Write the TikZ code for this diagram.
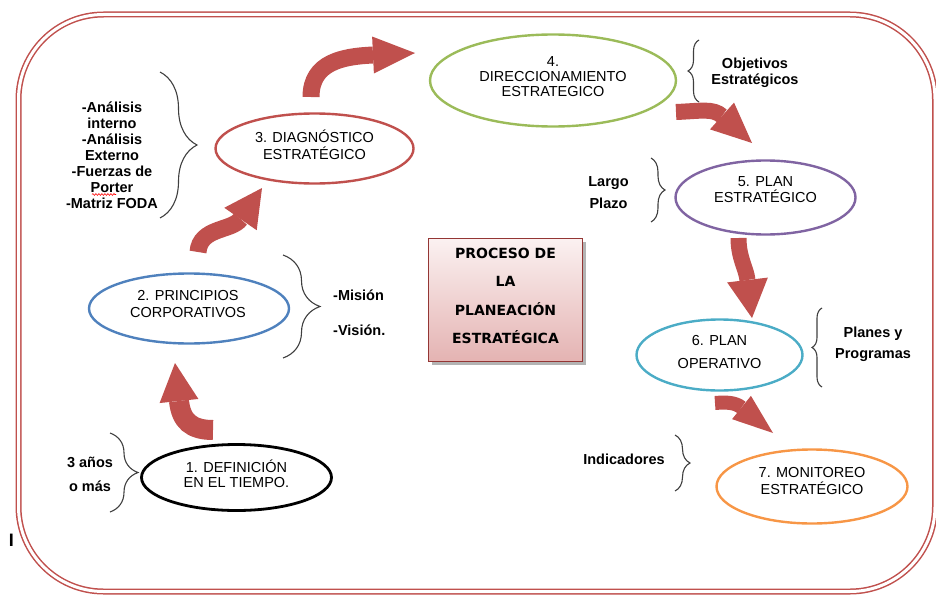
\documentclass[tikz,border=0pt]{standalone}
\usepackage{fontspec}
\setmainfont{Liberation Sans}
\newfontfamily\cajafont{DejaVu Sans}
\usetikzlibrary{shapes.geometric,calc,decorations.pathreplacing,decorations.pathmorphing,shadows}

\definecolor{rojo}{HTML}{C0504D}
\definecolor{azul}{HTML}{4F81BD}
\definecolor{verde}{HTML}{9BBB59}
\definecolor{morado}{HTML}{8064A2}
\definecolor{turquesa}{HTML}{4BACC6}
\definecolor{naranja}{HTML}{F79646}
\definecolor{bordecaja}{HTML}{943634}
\definecolor{rosa}{HTML}{E4B3B2}
\definecolor{rosaclaro}{HTML}{FBF1F1}
\definecolor{llavegris}{HTML}{3F3F3F}

\begin{document}
\begin{tikzpicture}[x=1pt,y=1pt,
  elipse/.style={ellipse, draw=#1, line width=2.4pt, inner sep=0pt},
  texto/.style={font=\fontsize{14.5}{#1}\selectfont, align=center, inner sep=0pt},
  etiqueta/.style={font=\fontsize{14.5}{#1}\selectfont\bfseries, align=center, inner sep=0pt},
  llave/.style={decorate, decoration={brace, amplitude=#1}, draw=llavegris, line width=1.1pt},
  cuerpo/.style={draw=rojo, line width=#1},
  caja/.style={rectangle, draw=bordecaja, line width=1.4pt, top color=rosaclaro, bottom color=rosa,
    drop shadow={shadow xshift=3.5pt, shadow yshift=-3.5pt, fill=black!50, opacity=0.6}},
]
\useasboundingbox (0,0) rectangle (936,-594);

% double-lined rounded frame
\draw[draw=rojo, line width=1.5pt, double=white, double distance=3pt, rounded corners=85pt]
  (18.5,-14.5) rectangle (935,-591.5);

% stray cursor mark
\node[font=\fontsize{18}{20}\selectfont\bfseries, inner sep=0pt] (marca) at (11.5,-540) {I};

% process stages
\node[elipse=black, line width=2.8pt, minimum width=190pt, minimum height=66pt] (e1) at (236.5,-477.5) {};
\node[elipse=azul, minimum width=200pt, minimum height=70pt] (e2) at (189,-308.5) {};
\node[elipse=rojo, minimum width=198pt, minimum height=70pt] (e3) at (314.5,-148.5) {};
\node[elipse=verde, minimum width=246pt, minimum height=92pt] (e4) at (553,-80.5) {};
\node[elipse=morado, minimum width=180pt, minimum height=74pt] (e5) at (765.5,-197.5) {};
\node[elipse=turquesa, minimum width=166pt, minimum height=71pt] (e6) at (719.5,-355) {};
\node[elipse=naranja, minimum width=191pt, minimum height=74pt] (e7) at (812,-486.5) {};

\node[texto=15] (t1) at (236.5,-474) {1. DEFINICIÓN\\EN EL TIEMPO.};
\node[texto=17] (t2) at (188,-304.5) {2. PRINCIPIOS\\CORPORATIVOS};
\node[texto=17] (t3) at (314.5,-144.5) {3. DIAGNÓSTICO\\ESTRATÉGICO};
\node[texto=14.7] (t4) at (553,-76.5) {4.\\DIRECCIONAMIENTO\\ESTRATEGICO};
\node[texto=16] (t5) at (765.5,-190) {5. PLAN\\ESTRATÉGICO};
\node[texto=22.5] (t6) at (719.5,-352) {6. PLAN\\OPERATIVO};
\node[texto=16.7] (t7) at (812,-481) {7. MONITOREO\\ESTRATÉGICO};

% central title box
\node[caja, minimum width=154.5pt, minimum height=123.5pt] (caja) at (505.5,-300) {};
\node[font=\cajafont\bfseries\fontsize{14}{28.3}\selectfont, align=center, inner sep=0pt] (titulo)
  at (505.5,-295.8) {PROCESO DE\\LA\\PLANEACIÓN\\ESTRATÉGICA};

% braces
\draw[llave=37pt] (160,-72) -- (160,-218);
\draw[llave=37pt] (283,-255) -- (283,-358);
\draw[llave=28pt] (110,-433) -- (110,-512);
\draw[llave=11pt] (699,-102) -- (699,-40);
\draw[llave=14pt] (651,-158) -- (651,-222);
\draw[llave=10pt] (822,-387) -- (822,-308);
\draw[llave=15pt] (675,-435) -- (675,-491);

% brace labels
\node[etiqueta=16] (lizq) at (112,-155) {-Análisis\\interno\\-Análisis\\Externo\\-Fuerzas de\\Porter\\-Matriz FODA};
\draw[red, line width=0.6pt, decorate, decoration={snake, amplitude=0.9pt, segment length=3pt}]
  (92,-194.5) -- (116,-194.5);
\node[etiqueta=35, align=left, anchor=west] (lmision) at (333,-312.5) {-Misión\\-Visión.};
\node[etiqueta=24] (lanios) at (90,-474) {3 años\\o más};
\node[etiqueta=16] (lobj) at (755,-73) {Objetivos\\Estratégicos};
\node[etiqueta=22] (llargo) at (608.5,-193) {Largo\\Plazo};
\node[etiqueta=21] (lplanes) at (873,-344) {Planes y\\Programas};
\node[etiqueta=16] (lind) at (624,-459) {Indicadores};

% curved block arrows: tail, head base, head apex
\coordinate (f1t) at ($(e1)+(-23.5,47.5)$);
\coordinate (f1b) at ($(e2)+(-10,-92.5)$);
\coordinate (f1a) at ($(e2)+(-14,-54.5)$);
\coordinate (f2t) at ($(e2)+(9,56.5)$);
\coordinate (f2b) at ($(e3)+(-74,-70.5)$);
\coordinate (f2a) at ($(e3)+(-52.5,-39.5)$);
\coordinate (f3t) at ($(e3)+(-3.5,51.5)$);
\coordinate (f3b) at ($(e4)+(-180,25.5)$);
\coordinate (f3a) at ($(e4)+(-138,27.5)$);
\coordinate (f4t) at ($(e4)+(123,-31.5)$);
\coordinate (f4b) at ($(e5)+(-43.5,81.5)$);
\coordinate (f4a) at ($(e5)+(-13.5,54.5)$);
\coordinate (f5t) at ($(e5)+(-27,-40.5)$);
\coordinate (f5b) at ($(e6)+(28,75)$);
\coordinate (f5a) at ($(e6)+(32.5,37)$);
\coordinate (f6t) at ($(e6)+(-4.5,-48)$);
\coordinate (f6b) at ($(e7)+(-70.5,79)$);
\coordinate (f6a) at ($(e7)+(-39,53.5)$);

\draw[cuerpo=20pt] (f1t) .. controls +(-22,0) and +(2.1,-19.9) .. (f1b);
\fill[rojo] ($(f1b)!19.5pt!90:(f1a)$) -- (f1a) -- ($(f1b)!19.5pt!-90:(f1a)$) -- cycle;

\draw[cuerpo=17pt] (f2t) .. controls +(2,25) and +(-8.6,-12.3) .. (f2b);
\fill[rojo] ($(f2b)!19.7pt!90:(f2a)$) -- (f2a) -- ($(f2b)!19.7pt!-90:(f2a)$) -- cycle;

\draw[cuerpo=17pt] (f3t) .. controls +(0,35) and +(-30,-1.4) .. (f3b);
\fill[rojo] ($(f3b)!18.5pt!90:(f3a)$) -- (f3a) -- ($(f3b)!18.5pt!-90:(f3a)$) -- cycle;

\draw[cuerpo=16pt] (f4t) .. controls +(25,1) and +(-8.9,8) .. (f4b);
\fill[rojo] ($(f4b)!18pt!90:(f4a)$) -- (f4a) -- ($(f4b)!18pt!-90:(f4a)$) -- cycle;

\draw[cuerpo=16pt] (f5t) .. controls +(0,-20) and +(-1.4,11.9) .. (f5b);
\fill[rojo] ($(f5b)!20.5pt!90:(f5a)$) -- (f5a) -- ($(f5b)!20.5pt!-90:(f5a)$) -- cycle;

\draw[cuerpo=14pt] (f6t) .. controls +(12,1) and +(-6.2,5) .. (f6b);
\fill[rojo] ($(f6b)!15pt!90:(f6a)$) -- (f6a) -- ($(f6b)!15pt!-90:(f6a)$) -- cycle;

\end{tikzpicture}
\end{document}
